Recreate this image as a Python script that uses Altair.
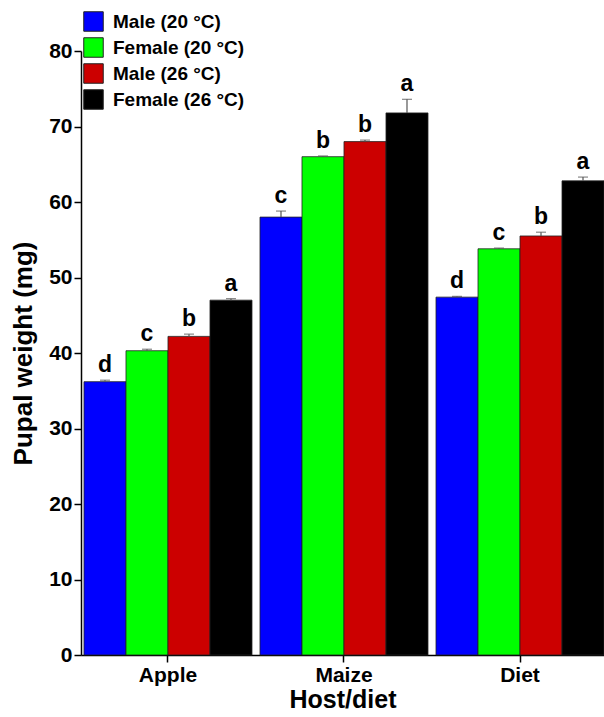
import altair as alt
import pandas as pd

hosts = ["Apple", "Maize", "Diet"]
groups = ["Male (20 °C)", "Female (20 °C)", "Male (26 °C)", "Female (26 °C)"]
colors = ["#0000FF", "#00FF00", "#CC0000", "#000000"]

# means per group, ordered as hosts
male20 = [36.2, 58.0, 47.4]
female20 = [40.3, 66.0, 53.8]
male26 = [42.2, 68.0, 55.5]
female26 = [47.0, 71.8, 62.8]

err_male20 = [0.2, 0.8, 0.1]
err_female20 = [0.2, 0.1, 0.1]
err_male26 = [0.3, 0.2, 0.5]
err_female26 = [0.2, 1.8, 0.5]

let_male20 = ["d", "c", "d"]
let_female20 = ["c", "b", "c"]
let_male26 = ["b", "b", "b"]
let_female26 = ["a", "a", "a"]

means = [male20, female20, male26, female26]
errs = [err_male20, err_female20, err_male26, err_female26]
lets = [let_male20, let_female20, let_male26, let_female26]

rows = []
for gi, g in enumerate(groups):
    for hi, h in enumerate(hosts):
        m = means[gi][hi]
        e = errs[gi][hi]
        rows.append({"host": h, "group": g, "mean": m, "top": m + e,
                     "letter": lets[gi][hi]})
df = pd.DataFrame(rows)

FONT = "Liberation Sans"

x_enc = alt.X("host:N", sort=hosts,
              scale=alt.Scale(paddingInner=0.0455, paddingOuter=0.0085, align=1),
              axis=alt.Axis(title="Host/diet", labelAngle=0, labelFontSize=21,
                            labelFontWeight="bold", labelPadding=2,
                            titleFontSize=25, titleFontWeight="bold",
                            titlePadding=2))
xoff = alt.XOffset("group:N", sort=groups,
                   scale=alt.Scale(paddingInner=0, paddingOuter=0))

base = alt.Chart(df)

bars = base.mark_bar(stroke="#222222", strokeWidth=0.8).encode(
    x=x_enc,
    xOffset=xoff,
    y=alt.Y("mean:Q", scale=alt.Scale(domain=[0, 80], nice=False),
            axis=alt.Axis(title="Pupal weight (mg)", values=list(range(0, 81, 10)),
                          labelFontSize=21, labelFontWeight="bold",
                          titleFontSize=26, titleFontWeight="bold",
                          titlePadding=12, labelPadding=2)),
    fill=alt.Fill("group:N", sort=groups,
                  scale=alt.Scale(domain=groups, range=colors),
                  legend=alt.Legend(title=None, orient="none", legendX=2, legendY=-40,
                                    symbolType="square", symbolSize=380,
                                    symbolStrokeColor="#222222", symbolStrokeWidth=1,
                                    labelFontSize=19, labelFontWeight="bold",
                                    labelOffset=9, rowPadding=1, padding=0)),
)

rules = base.mark_rule(color="#555555", strokeWidth=1.2).encode(
    x=alt.X("host:N", sort=hosts), xOffset=xoff,
    y="mean:Q", y2="top:Q")

caps = base.mark_tick(orient="horizontal", size=10, thickness=1.2,
                      color="#555555").encode(
    x=alt.X("host:N", sort=hosts), xOffset=xoff, y="top:Q")

letters = base.mark_text(fontSize=23, fontWeight="bold", baseline="bottom",
                         dy=-3, color="black", font=FONT).encode(
    x=alt.X("host:N", sort=hosts), xOffset=xoff, y="top:Q", text="letter:N")

chart = alt.layer(bars, rules, caps, letters).properties(
    width=523, height=604,
    autosize=alt.AutoSizeParams(type="none"),
    padding={"left": 81, "top": 51, "right": 0, "bottom": 62},
).configure(font=FONT).configure_view(stroke=None).configure_axis(
    grid=False, domainColor="black", domainWidth=1.5, tickColor="black",
    tickWidth=1.5, tickSize=7, labelColor="black", titleColor="black",
    labelFont=FONT, titleFont=FONT,
).configure_legend(labelFont=FONT, labelColor="black")

chart.save("out.html", embed_options={"renderer": "svg", "actions": False})
